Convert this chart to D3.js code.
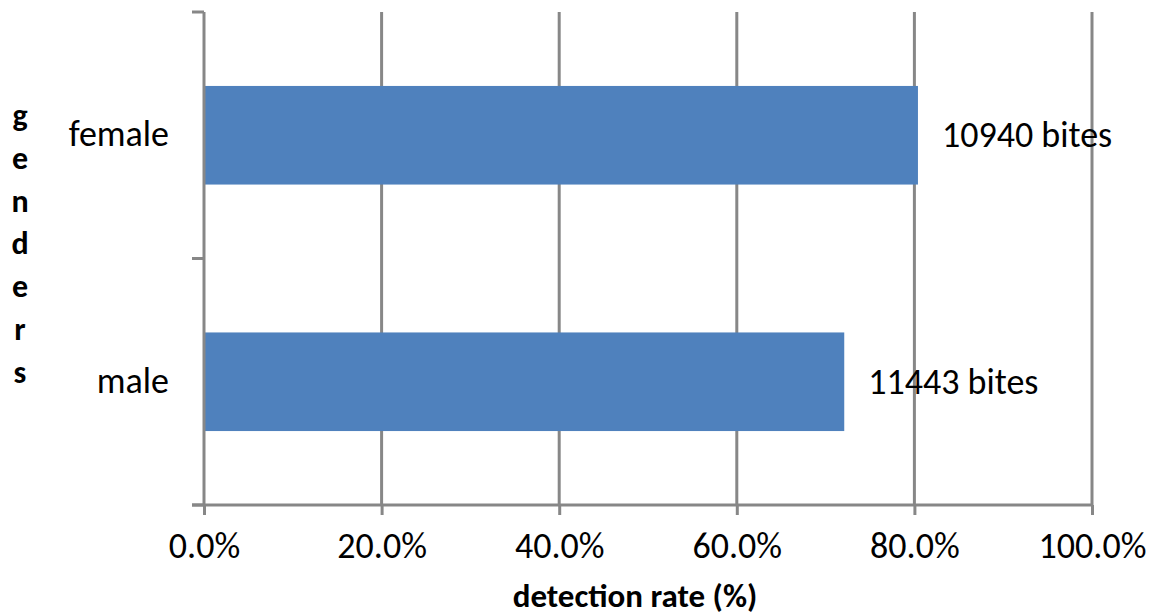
<!DOCTYPE html>
<html>
<head>
<meta charset="utf-8">
<script src="https://cdn.jsdelivr.net/npm/d3@7"></script>
<style>
  html, body { margin: 0; padding: 0; background: #fff; }
  svg { display: block; }
  text { font-family: Carlito, "Liberation Sans", Arial, sans-serif; fill: #000; }
</style>
</head>
<body>
<svg id="chart" width="1154" height="616"></svg>
<script>
const categories = ["female", "male"];
const rates = [80.4, 72.1];
const barLabels = ["10940 bites", "11443 bites"];
const xTicks = [0, 20, 40, 60, 80, 100];
const xTitle = "detection rate (%)";
const yTitle = "genders";

(function () {
const svg = d3.select("#chart");
const pLeft = 204, pRight = 1092, pTop = 12, pBottom = 505;
const gridColor = "#878787";
const sw = 3;

const x = d3.scaleLinear().domain([0, 100]).range([pLeft, pRight]);
const y = d3.scaleBand().domain(categories).range([pTop, pBottom])
  .paddingInner(0.6).paddingOuter(0.3);
const yOuter = d3.scaleBand().domain(categories).range([pTop, pBottom]);

// vertical gridlines
svg.append("g").selectAll("line").data(xTicks.filter(d => d > 0)).join("line")
  .attr("x1", d => x(d)).attr("x2", d => x(d))
  .attr("y1", pTop).attr("y2", pBottom)
  .attr("stroke", gridColor).attr("stroke-width", sw);

// bars
const data = categories.map((c, i) => ({ c, v: rates[i], label: barLabels[i] }));
svg.append("g").selectAll("rect").data(data).join("rect")
  .attr("x", x(0)).attr("y", d => y(d.c))
  .attr("width", d => x(d.v) - x(0)).attr("height", y.bandwidth())
  .attr("fill", "#4F81BD");

// bottom axis
const xAxis = d3.axisBottom(x).tickValues(xTicks)
  .tickFormat(d => d3.format(".1f")(d) + "%").tickSize(10).tickPadding(0);
const gx = svg.append("g").attr("transform", `translate(0,${pBottom})`).call(xAxis);
gx.select(".domain").attr("d", `M${pLeft - 12},0H${pRight}`)
  .attr("stroke", gridColor).attr("stroke-width", sw);
gx.selectAll(".tick line").attr("stroke", gridColor).attr("stroke-width", sw);
gx.selectAll(".tick text").attr("font-size", 36).attr("y", 53).attr("dy", null)
  .attr("font-family", 'Carlito, "Liberation Sans", Arial, sans-serif').attr("fill", "#000");

// left axis
const yBounds = [pTop, pTop + yOuter.step(), pBottom];
const gy = svg.append("g");
gy.append("line").attr("x1", pLeft).attr("x2", pLeft).attr("y1", pTop).attr("y2", pBottom)
  .attr("stroke", gridColor).attr("stroke-width", sw);
gy.selectAll("line.tk").data(yBounds).join("line").attr("class", "tk")
  .attr("x1", pLeft - 12).attr("x2", pLeft).attr("y1", d => d).attr("y2", d => d)
  .attr("stroke", gridColor).attr("stroke-width", sw);

// category labels
svg.append("g").selectAll("text").data(categories).join("text")
  .attr("x", 169).attr("y", d => y(d) + y.bandwidth() / 2 + 11)
  .attr("text-anchor", "end").attr("font-size", 36).text(d => d);

// value labels
svg.append("g").selectAll("text").data(data).join("text")
  .attr("x", d => x(d.v) + 24).attr("y", d => y(d.c) + y.bandwidth() / 2 + 12)
  .attr("font-size", 36).text(d => d.label);

// x title
svg.append("text").attr("x", 635).attr("y", 607).attr("text-anchor", "middle")
  .attr("font-size", 33).attr("font-weight", "bold").text(xTitle);

// y title as stacked letters
svg.append("g").selectAll("text").data(yTitle.split("")).join("text")
  .attr("x", 20).attr("y", (d, i) => 126 + i * 42.8)
  .attr("text-anchor", "middle").attr("font-size", 32).attr("font-weight", "bold")
  .text(d => d);
})();
</script>
</body>
</html>
